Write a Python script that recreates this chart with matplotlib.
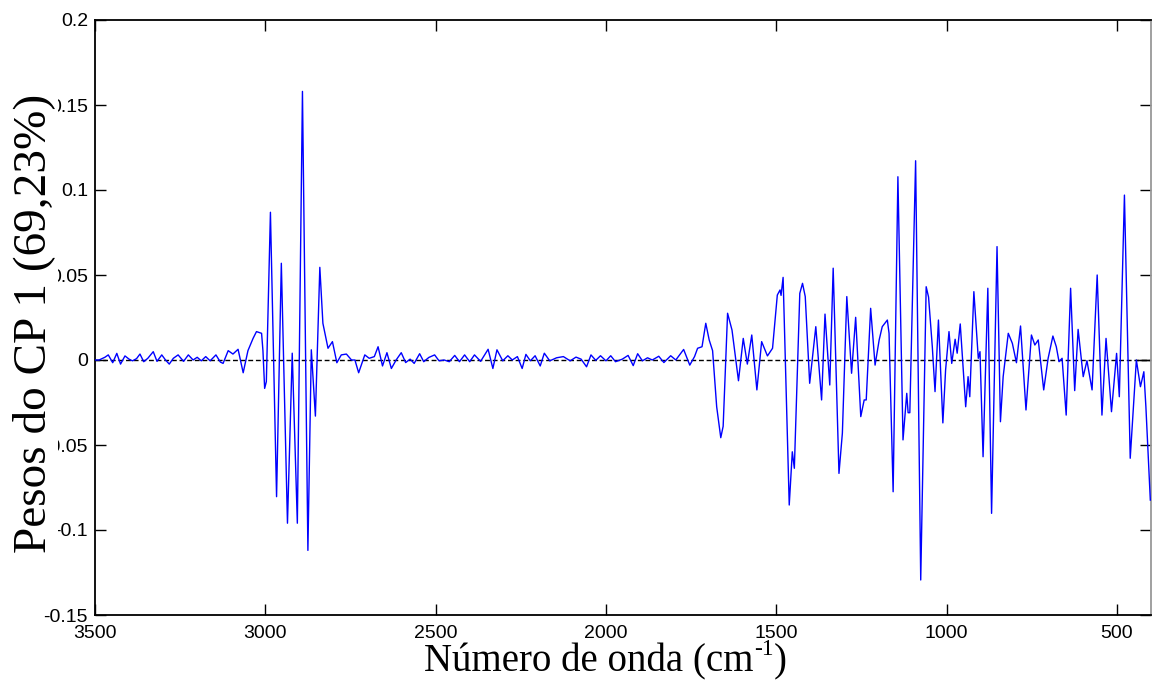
import matplotlib
matplotlib.use('Agg')
import matplotlib.pyplot as plt
import numpy as np

# numero de onda (cm-1) e pesos do CP 1
onda = [3500, 3488, 3471, 3461, 3448, 3436, 3425, 3412, 3400, 3390, 3378, 3368,
        3357, 3345, 3329, 3318, 3304, 3293, 3282, 3270, 3256, 3240, 3226, 3212,
        3200, 3188, 3175, 3162, 3145, 3132, 3124, 3109, 3095, 3080, 3065, 3051,
        3036, 3026, 3011, 3007, 3002, 2997, 2985, 2967, 2953, 2935, 2921, 2906,
        2891, 2875, 2865, 2853, 2840, 2831, 2816, 2803, 2790, 2777, 2762, 2747,
        2737, 2726, 2708, 2695, 2680, 2669, 2656, 2643, 2630, 2616, 2601, 2588,
        2575, 2563, 2547, 2535, 2520, 2503, 2490, 2475, 2460, 2444, 2430, 2415,
        2400, 2386, 2368, 2346, 2332, 2320, 2303, 2288, 2275, 2260, 2246, 2235,
        2222, 2208, 2193, 2181, 2165, 2145, 2125, 2105, 2088, 2073, 2057, 2044,
        2030, 2016, 2000, 1986, 1972, 1952, 1935, 1920, 1907, 1893, 1878, 1864,
        1845, 1830, 1810, 1795, 1772, 1754, 1740, 1731, 1718, 1707, 1697, 1687,
        1675, 1663, 1656, 1643, 1630, 1611, 1597, 1585, 1572, 1557, 1543, 1526,
        1511, 1497, 1489, 1486, 1480, 1462, 1453, 1447, 1431, 1423, 1415, 1402,
        1384, 1367, 1357, 1343, 1333, 1316, 1306, 1293, 1279, 1267, 1252, 1242,
        1236, 1223, 1210, 1198, 1189, 1174, 1169, 1157, 1143, 1128, 1117, 1113,
        1108, 1091, 1076, 1060, 1053, 1042, 1034, 1024, 1011, 1003, 993, 985,
        975, 969, 960, 944, 937, 932, 920, 907, 902, 893, 879, 868,
        852, 842, 834, 819, 807, 795, 783, 767, 751, 741, 731, 715,
        702, 688, 678, 670, 661, 649, 636, 624, 614, 599, 588, 573,
        558, 544, 532, 516, 501, 493, 478, 461, 443, 431, 421, 415, 402]

pesos = [0.0, 0.0, 0.0016, 0.003, -0.0016, 0.0039, -0.0024, 0.0024, 0.0005, -0.0005, 0.0008, 0.0035,
         -0.001, 0.001, 0.0049, -0.0008, 0.003, 0.0, -0.0024, 0.001, 0.003, -0.0008, 0.003, 0.0,
         0.0016, -0.0005, 0.002, -0.0005, 0.003, -0.0012, -0.002, 0.0055, 0.0035, 0.0063, -0.0075, 0.0055,
         0.0127, 0.0167, 0.0157, 0.0055, -0.0167, -0.0127, 0.0869, -0.0804, 0.0569, -0.096, 0.004, -0.096,
         0.158, -0.112, 0.006, -0.033, 0.0545, 0.0216, 0.0069, 0.0108, -0.0016, 0.003, 0.0035, 0.0,
         0.0, -0.0075, 0.003, 0.001, 0.002, 0.0078, -0.0035, 0.0043, -0.005, 0.0, 0.0043, -0.0015,
         0.0005, -0.002, 0.0037, -0.001, 0.0015, 0.003, -0.0005, 0.0, -0.001, 0.0027, -0.001, 0.003,
         -0.001, 0.003, -0.0008, 0.0063, -0.005, 0.006, -0.0005, 0.0025, 0.0, 0.002, -0.005, 0.0033,
         -0.0005, 0.0025, -0.0035, 0.004, -0.0005, 0.0013, 0.002, -0.0005, 0.0017, 0.0005, -0.004, 0.003,
         -0.0002, 0.0025, -0.0005, 0.0025, -0.001, 0.0005, 0.0027, -0.0033, 0.0037, -0.0005, 0.0013, 0.0,
         0.0022, -0.0015, 0.0025, 0.0, 0.0062, -0.003, 0.002, 0.0069, 0.0078, 0.0216, 0.0118, 0.0055,
         -0.0275, -0.0457, -0.039, 0.0275, 0.0176, -0.0122, 0.0127, -0.0024, 0.0147, -0.0176, 0.0108, 0.0024,
         0.0069, 0.0382, 0.0412, 0.038, 0.0486, -0.0853, -0.054, -0.0637, 0.0392, 0.0451, 0.0373, -0.0137,
         0.0196, -0.0235, 0.027, -0.0147, 0.054, -0.0667, -0.043, 0.0373, -0.0078, 0.0251, -0.0333, -0.0235,
         -0.0235, 0.0304, -0.003, 0.0118, 0.0196, 0.0235, 0.0157, -0.0775, 0.1078, -0.047, -0.0196, -0.031,
         -0.031, 0.1172, -0.1294, 0.0431, 0.037, 0.0078, -0.0186, 0.0235, -0.037, -0.0059, 0.0167, -0.002,
         0.0122, 0.004, 0.0212, -0.0275, -0.0098, -0.0216, 0.0402, 0.001, 0.0049, -0.0569, 0.0422, -0.0902,
         0.0667, -0.0363, -0.0098, 0.0157, 0.0098, -0.0016, 0.02, -0.0294, 0.0147, 0.0088, 0.0118, -0.0176,
         0.001, 0.0141, 0.0078, -0.001, 0.001, -0.0324, 0.0422, -0.018, 0.018, -0.0098, -0.0004, -0.0176,
         0.05, -0.0324, 0.0127, -0.0304, 0.0039, -0.0216, 0.097, -0.0578, 0.0, -0.0157, -0.0069, -0.0275, -0.0824]

xticks = [3500, 3000, 2500, 2000, 1500, 1000, 500]
yticks = [-0.15, -0.1, -0.05, 0, 0.05, 0.1, 0.15, 0.2]
ytick_labels = ['-0.15', '-0.1', '-0.05', '0', '0.05', '0.1', '0.15', '0.2']

plt.rcParams['font.family'] = ['Liberation Sans', 'DejaVu Sans']

fig = plt.figure(figsize=(11.52, 6.87), dpi=100)
ax = fig.add_axes([95 / 1152, 72 / 687, 1056 / 1152, 595 / 687])

ax.plot(onda, pesos, color='#0000ff', lw=1.0, zorder=3)
ax.plot([3500, 400], [0, 0], color='black', lw=1.0, ls=(0, (3.5, 2)), zorder=2)
ax.plot([445, 400], [0, 0], color='black', lw=1.0, zorder=2)

ax.set_xlim(3500, 400)
ax.set_ylim(-0.15, 0.2)
ax.set_xticks(xticks)
ax.set_yticks(yticks)
ax.set_yticklabels(ytick_labels)
ax.tick_params(direction='in', length=8, width=1, labelsize=14, top=True, right=True, colors='black')
ax.tick_params(axis='x', pad=7)
ax.tick_params(axis='y', pad=5)
for s in ax.spines.values():
    s.set_linewidth(1.3)
ax.spines['right'].set_color('#999999')

# rotulo do eixo y (por cima dos numeros, como no original)
fig.text(34 / 1152, 1 - 323 / 687, 'Pesos do CP 1 (69,23%)', rotation=90, ha='center', va='center',
         fontsize=34, family='Liberation Serif', zorder=5,
         bbox=dict(facecolor='white', edgecolor='none', pad=2))

# rotulo do eixo x com expoente montado em tres partes
fs = 28
yb = 1 - 671 / 687
t1 = fig.text(0, yb, 'Número de onda (cm', fontsize=fs, family='Liberation Serif', va='baseline')
t2 = fig.text(0, yb + 16 / 687, '-1', fontsize=fs * 0.6, family='Liberation Serif', va='baseline')
t3 = fig.text(0, yb, ')', fontsize=fs, family='Liberation Serif', va='baseline')
r = fig.canvas.get_renderer()
w = [t.get_window_extent(r).width for t in (t1, t2, t3)]
x0 = 605 - sum(w) / 2
t1.set_x(x0 / 1152)
t2.set_x((x0 + w[0] + 1) / 1152)
t3.set_x((x0 + w[0] + w[1] + 1) / 1152)

fig.savefig('out.png', dpi=100)
